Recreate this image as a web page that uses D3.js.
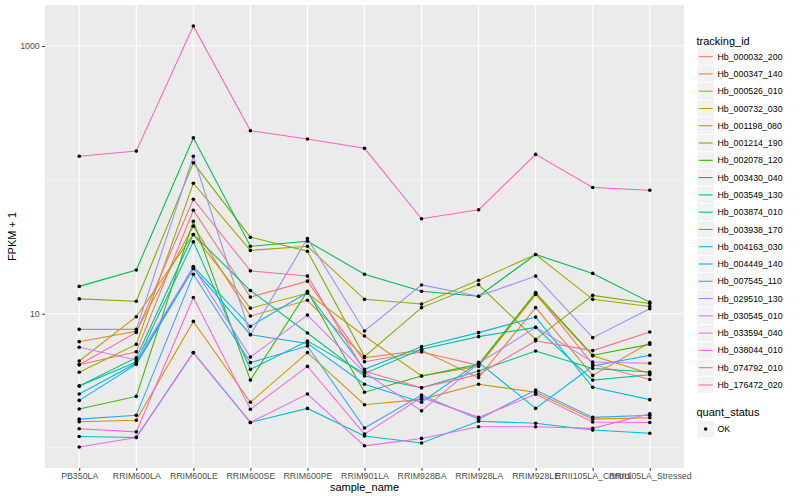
<!DOCTYPE html>
<html><head><meta charset="utf-8">
<script src="https://cdn.jsdelivr.net/npm/d3@7"></script>
<style>
body{margin:0;background:#fff}
svg{display:block;font-family:"Liberation Sans",Arial,Helvetica,sans-serif}
</style>
</head><body>
<svg id="chart" width="800" height="500"></svg>
<script>
// ---------- data (FPKM + 1) ----------
const samples = ["PB350LA","RRIM600LA","RRIM600LE","RRIM600SE","RRIM600PE","RRIM901LA","RRIM928BA","RRIM928LA","RRIM928LE","RRII105LA_Control","RRII105LA_Stressed"];
const trackingIds = ["Hb_000032_200","Hb_000347_140","Hb_000526_010","Hb_000732_030","Hb_001198_080","Hb_001214_190","Hb_002078_120","Hb_003430_040","Hb_003549_130","Hb_003874_010","Hb_003938_170","Hb_004163_030","Hb_004449_140","Hb_007545_110","Hb_029510_130","Hb_030545_010","Hb_033594_040","Hb_038044_010","Hb_074792_010","Hb_176472_020"];
const seriesColors = ["#F8766D","#EA8331","#D89000","#C09B00","#A3A500","#7CAE00","#39B600","#00BB4E","#00BF7D","#00C1A3","#00BFC4","#00BAE0","#00B0F6","#35A2FF","#9590FF","#C77CFF","#E76BF3","#FA62DB","#FF62BC","#FF6C91"];
const yMajorTicks = [10, 1000];
const yMinorTicks = [1, 100];
const quantStatus = ["OK"];

const Hb_000032_200 = [4.16, 5.20, 59.3, 13.3, 17.5, 4.38, 5.17, 4.11, 14.2, 4.18, 3.22];
const Hb_000347_140 = [6.18, 7.38, 45.1, 9.60, 12.6, 4.69, 5.32, 3.33, 11.1, 3.46, 6.07];
const Hb_000526_010 = [1.56, 1.60, 8.76, 2.18, 5.12, 2.09, 2.29, 2.97, 2.59, 1.63, 1.67];
const Hb_000732_030 = [4.43, 9.50, 39.1, 11.0, 14.2, 6.81, 3.42, 4.04, 13.9, 4.84, 3.58];
const Hb_001198_080 = [3.65, 5.90, 94.3, 29.7, 31.9, 12.8, 11.8, 17.8, 27.7, 12.8, 11.3];
const Hb_001214_190 = [12.9, 12.4, 134, 37.3, 29.3, 4.78, 11.1, 16.5, 6.43, 13.7, 11.9];
const Hb_002078_120 = [1.94, 2.41, 49.1, 3.19, 14.7, 2.59, 3.42, 4.18, 14.4, 4.89, 5.90];
const Hb_003430_040 = [16.0, 21.2, 206, 31.9, 34.8, 19.7, 14.7, 13.5, 27.7, 20.0, 12.2];
const Hb_003549_130 = [2.88, 4.69, 39.1, 14.9, 7.17, 3.42, 2.80, 3.73, 5.26, 3.89, 3.67];
const Hb_003874_010 = [2.88, 4.35, 34.5, 3.84, 6.24, 3.58, 5.42, 6.74, 7.90, 3.19, 3.50];
const Hb_003938_170 = [1.21, 1.19, 5.12, 1.54, 1.96, 1.22, 1.08, 1.57, 1.52, 1.35, 1.28];
const Hb_004163_030 = [2.51, 4.26, 22.5, 8.04, 14.4, 3.84, 5.67, 7.22, 9.43, 2.82, 2.28];
const Hb_004449_140 = [2.25, 4.18, 21.7, 6.97, 6.00, 2.97, 2.18, 4.33, 1.96, 4.06, 4.89];
const Hb_007545_110 = [1.63, 1.74, 19.7, 4.31, 5.73, 1.40, 2.47, 1.63, 2.69, 1.68, 1.74];
const Hb_029510_130 = [7.64, 7.64, 150, 6.97, 36.5, 7.42, 16.4, 13.5, 19.1, 6.62, 10.9];
const Hb_030545_010 = [5.61, 4.51, 22.2, 4.74, 9.76, 3.65, 1.88, 4.26, 7.90, 4.35, 4.26];
const Hb_033594_040 = [1.01, 1.19, 5.12, 1.54, 2.51, 1.03, 1.17, 1.43, 1.43, 1.39, 1.79];
const Hb_038044_010 = [1.38, 1.31, 13.2, 1.93, 4.04, 1.26, 2.37, 1.68, 2.50, 1.55, 1.54];
const Hb_074792_010 = [150, 164, 1410, 233, 202, 172, 51.2, 59.7, 155, 87.6, 83.6];
const Hb_176472_020 = [4.16, 7.25, 71.7, 20.9, 19.1, 3.71, 2.80, 3.52, 6.27, 5.30, 7.29];

const seriesValues = [Hb_000032_200,Hb_000347_140,Hb_000526_010,Hb_000732_030,Hb_001198_080,Hb_001214_190,Hb_002078_120,Hb_003430_040,Hb_003549_130,Hb_003874_010,Hb_003938_170,Hb_004163_030,Hb_004449_140,Hb_007545_110,Hb_029510_130,Hb_030545_010,Hb_033594_040,Hb_038044_010,Hb_074792_010,Hb_176472_020];

// table built from the arrays
const series = trackingIds.map((id,i)=>({
  id, color: seriesColors[i],
  points: samples.map((s,j)=>({sample:s, value:seriesValues[i][j]}))
}));
const allPts = series.flatMap(s=>s.points);

// ---------- layout ----------
const svg = d3.select("#chart");
const P = {l:45, r:684, t:5, b:468};
const textCol = "#4D4D4D";

const x = d3.scalePoint().domain(samples).range([P.l,P.r]).padding(0.6);
const ext = d3.extent(allPts, d=>Math.log10(d.value));
const pad = (ext[1]-ext[0])*0.05;
const y = d3.scaleLog().domain([Math.pow(10,ext[0]-pad), Math.pow(10,ext[1]+pad)]).range([P.b,P.t]);

// panel
svg.append("rect").attr("x",P.l).attr("y",P.t).attr("width",P.r-P.l).attr("height",P.b-P.t).attr("fill","#EBEBEB");
const grid = svg.append("g");
grid.selectAll(".ymin").data(yMinorTicks).join("line")
  .attr("x1",P.l).attr("x2",P.r).attr("y1",d=>y(d)).attr("y2",d=>y(d))
  .attr("stroke","#fff").attr("stroke-width",0.55);
grid.selectAll(".ymaj").data(yMajorTicks).join("line")
  .attr("x1",P.l).attr("x2",P.r).attr("y1",d=>y(d)).attr("y2",d=>y(d))
  .attr("stroke","#fff").attr("stroke-width",1.1);
grid.selectAll(".xmaj").data(samples).join("line")
  .attr("x1",d=>x(d)).attr("x2",d=>x(d)).attr("y1",P.t).attr("y2",P.b)
  .attr("stroke","#fff").attr("stroke-width",1.1);

// lines
const line = d3.line().x(d=>x(d.sample)).y(d=>y(d.value));
svg.append("g").selectAll("path").data(series).join("path")
  .attr("d",d=>line(d.points)).attr("fill","none")
  .attr("stroke",d=>d.color).attr("stroke-width",1.07);

// points
svg.append("g").selectAll("circle").data(allPts).join("circle")
  .attr("cx",d=>x(d.sample)).attr("cy",d=>y(d.value)).attr("r",1.8).attr("fill","#000");

// axes
const yAxis = d3.axisLeft(y).tickValues(yMajorTicks).tickFormat(d3.format("d")).tickSize(2.75).tickPadding(2.5);
const gy = svg.append("g").attr("transform",`translate(${P.l},0)`).call(yAxis);
gy.select(".domain").remove();
gy.selectAll(".tick line").attr("stroke","#333333").attr("stroke-width",1.07);
gy.selectAll(".tick text").attr("fill",textCol).style("font-size","8.8px").style("font-family","inherit");

const xAxis = d3.axisBottom(x).tickSize(2.75).tickPadding(2.2);
const gx = svg.append("g").attr("transform",`translate(0,${P.b})`).call(xAxis);
gx.select(".domain").remove();
gx.selectAll(".tick line").attr("stroke","#333333").attr("stroke-width",1.07);
gx.selectAll(".tick text").attr("fill",textCol).style("font-size","8.8px").style("font-family","inherit");

// axis titles
svg.append("text").attr("x",(P.l+P.r)/2).attr("y",491).attr("text-anchor","middle")
  .style("font-size","11px").attr("fill","#000").text("sample_name");
svg.append("text").attr("transform",`translate(16,${(P.t+P.b)/2}) rotate(-90)`).attr("text-anchor","middle")
  .style("font-size","11px").attr("fill","#000").text("FPKM + 1");

// legend: tracking_id
const LX = 697, keyH = 17.28, keyW = 17.28, key0 = 48;
svg.append("text").attr("x",696.5).attr("y",44.5).style("font-size","11px").attr("fill","#000").text("tracking_id");
const lg = svg.append("g").selectAll("g").data(series).join("g")
  .attr("transform",(d,i)=>`translate(${LX},${key0+i*keyH})`);
lg.append("rect").attr("width",keyW).attr("height",keyH).attr("fill","#F2F2F2").attr("stroke","#fff").attr("stroke-width",0.8);
lg.append("line").attr("x1",1.7).attr("x2",keyW-1.7).attr("y1",keyH/2).attr("y2",keyH/2)
  .attr("stroke",d=>d.color).attr("stroke-width",1.07);
lg.append("text").attr("x",keyW+2.6+0.6).attr("y",keyH/2+3.1).style("font-size","8.8px").attr("fill","#000").text(d=>d.id);

// legend: quant_status
svg.append("text").attr("x",696.5).attr("y",416.3).style("font-size","11px").attr("fill","#000").text("quant_status");
const qg = svg.append("g").selectAll("g").data(quantStatus).join("g")
  .attr("transform",(d,i)=>`translate(${LX},${420.4+i*keyH})`);
qg.append("rect").attr("width",keyW).attr("height",keyH).attr("fill","#F2F2F2").attr("stroke","#fff").attr("stroke-width",0.8);
qg.append("circle").attr("cx",keyW/2).attr("cy",keyH/2).attr("r",1.8).attr("fill","#000");
qg.append("text").attr("x",keyW+3.2).attr("y",keyH/2+3.1).style("font-size","8.8px").attr("fill","#000").text(d=>d);
</script>
</body></html>
